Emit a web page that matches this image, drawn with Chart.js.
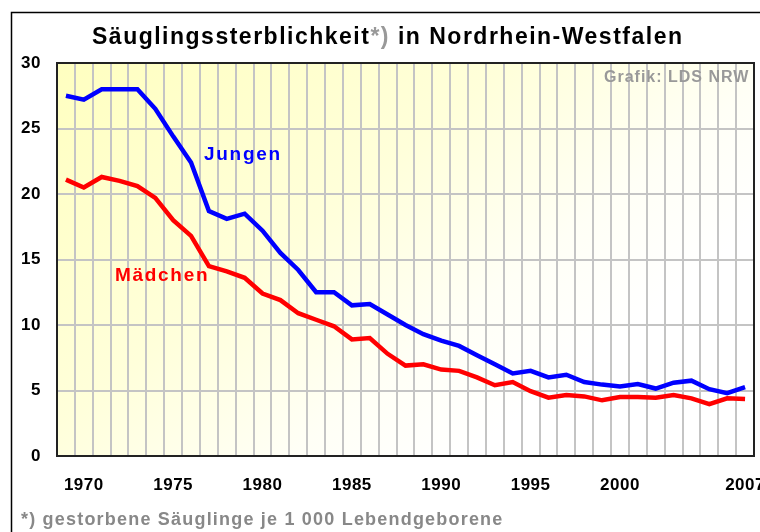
<!DOCTYPE html>
<html>
<head>
<meta charset="utf-8">
<script src="https://cdn.jsdelivr.net/npm/chart.js@4/dist/chart.umd.min.js"></script>
<style>
  body { margin: 0; background: #fff; }
  canvas { display: block; }
</style>
</head>
<body>
<canvas id="myChart" width="760" height="532"></canvas>
<script>
// Säuglingssterblichkeit NRW, gestorbene Säuglinge je 1 000 Lebendgeborene
const years = [];
for (let y = 1969; y <= 2007; y++) years.push(String(y));

const jungen = [
  27.5, 27.2, 28.0, 28.0, 28.0, 26.5, 24.4, 22.4, 18.7, 18.1,
  18.5, 17.2, 15.5, 14.2, 12.5, 12.5, 11.5, 11.6, 10.8, 10.0,
  9.3, 8.8, 8.4, 7.7, 7.0, 6.3, 6.5, 6.0, 6.2, 5.65,
  5.45, 5.3, 5.5, 5.15, 5.6, 5.75, 5.1, 4.8, 5.25
];
const maedchen = [
  21.1, 20.5, 21.3, 21.0, 20.6, 19.7, 18.0, 16.8, 14.5, 14.1,
  13.6, 12.4, 11.9, 10.9, 10.4, 9.9, 8.9, 9.0, 7.8, 6.9,
  7.0, 6.6, 6.5, 6.0, 5.4, 5.65, 4.95, 4.45, 4.65, 4.55,
  4.25, 4.5, 4.5, 4.45, 4.65, 4.4, 3.95, 4.4, 4.35
];
const xTickLabels = ['1970', '1975', '1980', '1985', '1990', '1995', '2000', '2007'];
const yTicks = [0, 5, 10, 15, 20, 25, 30];

const FONT = '"Liberation Sans", Arial, sans-serif';

const decor = {
  id: 'decor',
  beforeDraw(chart) {
    const ctx = chart.ctx;
    const a = chart.chartArea;
    ctx.save();
    ctx.fillStyle = '#ffffff';
    ctx.fillRect(0, 0, chart.width, chart.height);
    // outer frame
    ctx.strokeStyle = '#000';
    ctx.lineWidth = 1.5;
    ctx.strokeRect(11.5, 12.5, 800, 600);
    // plot background, yellow fading towards bottom right
    const g = ctx.createLinearGradient(a.left, a.top, a.left + 350, a.bottom + 50);
    g.addColorStop(0, '#ffffc0');
    g.addColorStop(0.5, '#ffffda');
    g.addColorStop(0.8, '#fffff6');
    g.addColorStop(1, '#ffffff');
    ctx.fillStyle = g;
    ctx.fillRect(a.left, a.top, a.right - a.left, a.bottom - a.top);
    ctx.restore();
    ctx.letterSpacing = '0.5px';
  },
  afterDraw(chart) {
    const ctx = chart.ctx;
    const a = chart.chartArea;
    ctx.save();
    ctx.strokeStyle = '#222';
    ctx.lineWidth = 2;
    ctx.strokeRect(a.left, a.top, a.right - a.left, a.bottom - a.top);

    ctx.textBaseline = 'alphabetic';
    ctx.textAlign = 'left';

    // title with grey footnote mark
    ctx.font = 'bold 23px ' + FONT;
    ctx.letterSpacing = '1.5px';
    let x = 92;
    const parts = [['Säuglingssterblichkeit', '#000'], ['*)', '#999'], [' in Nordrhein-Westfalen', '#000']];
    parts.forEach(p => {
      ctx.fillStyle = p[1];
      ctx.fillText(p[0], x, 44);
      x += ctx.measureText(p[0]).width;
    });

    ctx.font = 'bold 16px ' + FONT;
    ctx.letterSpacing = '1px';
    ctx.fillStyle = '#999';
    ctx.fillText('Grafik: LDS NRW', 604, 82);

    ctx.font = 'bold 19px ' + FONT;
    ctx.letterSpacing = '1.7px';
    ctx.fillStyle = '#0000ff';
    ctx.fillText('Jungen', 204, 160);
    ctx.fillStyle = '#ff0000';
    ctx.fillText('Mädchen', 115, 281);

    ctx.font = 'bold 18px ' + FONT;
    ctx.letterSpacing = '1.2px';
    ctx.fillStyle = '#888';
    ctx.fillText('*) gestorbene Säuglinge je 1 000 Lebendgeborene', 21, 525);
    ctx.restore();
    ctx.letterSpacing = '0px';
  }
};

const ctx = document.getElementById('myChart').getContext('2d');
const myChart = new Chart(ctx, {
  type: 'line',
  data: {
    labels: years,
    datasets: [
      {
        label: 'Jungen',
        data: jungen,
        borderColor: '#0000ff',
        borderWidth: 4.5,
        pointRadius: 0,
        tension: 0,
        fill: false
      },
      {
        label: 'Mädchen',
        data: maedchen,
        borderColor: '#ff0000',
        borderWidth: 4.5,
        pointRadius: 0,
        tension: 0,
        fill: false
      }
    ]
  },
  options: {
    responsive: false,
    animation: false,
    devicePixelRatio: 1,
    layout: { padding: { left: 0, top: 63, right: 6, bottom: 0 } },
    plugins: {
      legend: { display: false },
      title: { display: false },
      tooltip: { enabled: false }
    },
    scales: {
      x: {
        type: 'category',
        offset: true,
        grid: { offset: true, color: '#c4c4c4', lineWidth: 2, drawTicks: false },
        border: { display: false },
        ticks: {
          autoSkip: false,
          maxRotation: 0,
          padding: 19,
          color: '#000',
          font: { family: FONT, size: 17, weight: 'bold' },
          callback: function (value) {
            const lab = this.getLabelForValue(value);
            return xTickLabels.includes(lab) ? lab : '';
          }
        },
        afterFit(scale) {
          scale.height = 76;
          scale.paddingLeft = 0;
          scale.paddingRight = 0;
        }
      },
      y: {
        min: 0,
        max: 30,
        afterBuildTicks(scale) {
          scale.ticks = yTicks.map(v => ({ value: v }));
        },
        grid: { color: '#c4c4c4', lineWidth: 2, drawTicks: false },
        border: { display: false },
        ticks: {
          padding: 16,
          color: '#000',
          font: { family: FONT, size: 17, weight: 'bold' }
        },
        afterFit(scale) {
          scale.width = 57;
          scale.paddingTop = 0;
          scale.paddingBottom = 0;
        }
      }
    }
  },
  plugins: [decor]
});
</script>
</body>
</html>
